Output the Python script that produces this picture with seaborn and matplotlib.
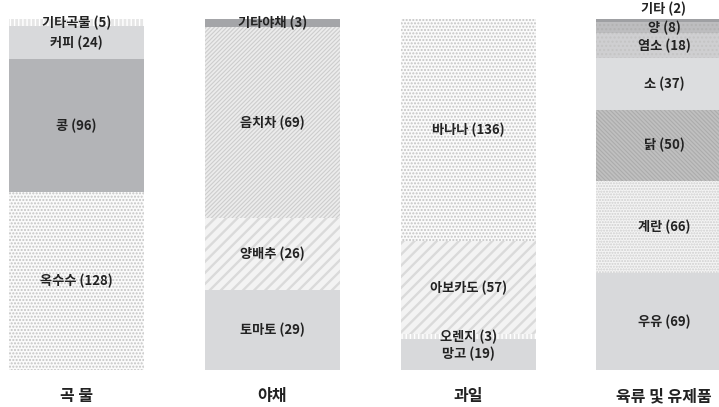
import numpy as np
import pandas as pd
import matplotlib
matplotlib.use("Agg")
import matplotlib.pyplot as plt
import seaborn as sns

# categories (x axis) and their items, listed bottom -> top
groups = ["곡 물", "야채", "과일", "육류 및 유제품"]

grain_items = ["옥수수", "콩", "커피", "기타곡물"]
grain_vals = [128, 96, 24, 5]

veg_items = ["토마토", "양배추", "음치차", "기타야채"]
veg_vals = [29, 26, 69, 3]

fruit_items = ["망고", "오렌지", "아보카도", "바나나"]
fruit_vals = [19, 3, 57, 136]

meat_items = ["우유", "계란", "닭", "소", "염소", "양", "기타"]
meat_vals = [69, 66, 50, 37, 18, 8, 2]

# fill style per item: (facecolor, hatch colour, hatch, hatch width)
styles = {
    "옥수수": ("#fbfbfb", "#c4c4c4", ".....", 1.0),
    "콩": ("#b3b4b7", "#b3b4b7", "", 1.0),
    "커피": ("#d8d9db", "#d8d9db", "", 1.0),
    "기타곡물": ("#e6e6e6", "#ffffff", "||||", 1.0),
    "토마토": ("#d8d9db", "#d8d9db", "", 1.0),
    "양배추": ("#f3f3f3", "#dadada", "///", 1.7),
    "음치차": ("#ececec", "#cdcdcd", "////////", 0.8),
    "기타야채": ("#a4a5a8", "#a4a5a8", "", 1.0),
    "망고": ("#d8d9db", "#d8d9db", "", 1.0),
    "오렌지": ("#e6e6e6", "#ffffff", "||||", 1.0),
    "아보카도": ("#f3f3f3", "#dadada", "///", 1.7),
    "바나나": ("#fbfbfb", "#c4c4c4", ".....", 1.0),
    "우유": ("#d8d9db", "#d8d9db", "", 1.0),
    "계란": ("#f4f4f4", "#cfcfcf", "......", 1.0),
    "닭": ("#c0c0c0", "#acacac", "\\\\\\\\\\\\\\\\", 0.8),
    "소": ("#dcdddf", "#dcdddf", "", 1.0),
    "염소": ("#cfcfd1", "#c4c4c4", "....", 1.0),
    "양": ("#bdbdbf", "#b2b2b2", "....", 1.0),
    "기타": ("#9fa0a3", "#9fa0a3", "", 1.0),
}

rows = []
for g, items, vals in zip(groups,
                          [grain_items, veg_items, fruit_items, meat_items],
                          [grain_vals, veg_vals, fruit_vals, meat_vals]):
    total = sum(vals)
    bottom = 0.0
    for it, v in zip(items, vals):
        share = v / total
        rows.append(dict(group=g, item=it, value=v, share=share, bottom=bottom))
        bottom += share
df = pd.DataFrame(rows)

sns.set_theme(style="white")
plt.rcParams["font.family"] = ["Noto Sans CJK KR", "DejaVu Sans"]
plt.rcParams["hatch.linewidth"] = 1.0

fig = plt.figure(figsize=(7.19, 4.07), dpi=100)
ax = fig.add_axes([0, 0.091, 1, 0.862])

for _, r in df.iterrows():
    fc, hc, h, hw = styles[r["item"]]
    sns.barplot(x=[r["group"]], y=[r["share"]], order=groups, bottom=r["bottom"],
                width=0.69, color=fc, ax=ax, errorbar=None)
    p = ax.patches[-1]
    p.set_facecolor(fc)
    p.set_edgecolor(hc)
    p.set_hatch(h)
    p.set_linewidth(0)
    if hasattr(p, "set_hatch_linewidth"):
        p.set_hatch_linewidth(hw)

    xi = groups.index(r["group"])
    if r["share"] < 0.01:
        ty = 1.0 + 0.03
    else:
        ty = r["bottom"] + r["share"] / 2
    ax.text(xi, ty, f"{r['item']} ({r['value']})", ha="center", va="center",
            fontsize=9.5, fontweight="bold", color="#222222")

ax.set_xlim(-0.392, 3.281)
ax.set_ylim(0, 1)
ax.set_yticks([])
ax.set_xlabel("")
ax.set_ylabel("")
ax.set_xticks(range(len(groups)))
ax.set_xticklabels(groups, fontsize=11.5, fontweight="bold", color="#222222")
ax.tick_params(axis="x", length=0, pad=13)
for s in ax.spines.values():
    s.set_visible(False)

fig.savefig("out.png", dpi=100)
